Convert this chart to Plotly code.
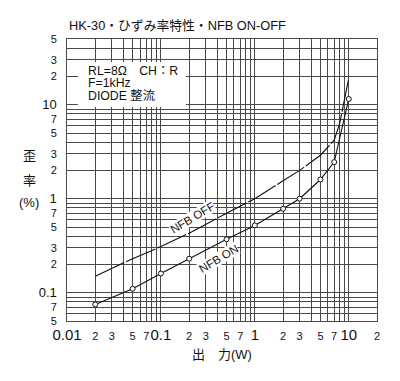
import plotly.graph_objects as go
import numpy as np

# Data
power_on = [0.02, 0.05, 0.1, 0.2, 0.5, 1, 2, 3, 5, 7, 10]
dist_on = [0.075, 0.11, 0.16, 0.23, 0.37, 0.52, 0.78, 1.0, 1.6, 2.45, 11.5]

power_off = [0.02, 0.05, 0.1, 0.2, 0.5, 1, 2, 3, 5, 7, 8, 10]
dist_off = [0.15, 0.23, 0.31, 0.43, 0.7, 1.0, 1.55, 2.0, 2.9, 4.2, 6.3, 19]

# Grid / tick positions and labels
x_tickvals = [m * 10.0 ** e for e in (-2, -1, 0) for m in range(1, 10)] + [10, 20]
x_labels = ["0.01", "2", "3", "", "5", "", "7", "", "",
            "0.1", "2", "3", "", "5", "", "7", "", "",
            "1", "2", "3", "", "5", "", "7", "", "",
            "10", "2"]
y_tickvals = [m * 10.0 ** e for e in (-2, -1, 0, 1) for m in range(1, 10)]
y_tickvals = [v for v in y_tickvals if 0.049 < v < 51] + [50]
y_labels_map = {0.05: "5", 0.07: "7", 0.1: "0.1", 0.2: "2", 0.3: "3", 0.5: "5", 0.7: "7",
                1: "1", 2: "2", 3: "3", 5: "5", 7: "7", 10: "10", 20: "2", 30: "3", 50: "5"}

BIG = {"0.01", "0.1", "1", "10"}


def fmt(lbl, big, small):
    if lbl == "":
        return ""
    size = big if lbl in BIG else small
    return f'<span style="font-size:{size}px">{lbl}</span>'


x_ticktext = [fmt(l, 15, 11) for l in x_labels]
y_ticktext = []
for v in y_tickvals:
    lbl = ""
    for k, t in y_labels_map.items():
        if abs(k - v) < 1e-6:
            lbl = t
    y_ticktext.append(fmt(lbl, 13, 11))

FONT = "Liberation Sans, Arial, Noto Sans CJK JP, sans-serif"
GRID = "#4a4a4a"
INK = "#111111"

fig = go.Figure()
fig.add_trace(go.Scatter(
    x=power_off, y=dist_off, mode="lines",
    line=dict(color=INK, width=1.1, dash="32px,2px"),
    showlegend=False,
))
fig.add_trace(go.Scatter(
    x=power_on, y=dist_on, mode="lines+markers",
    line=dict(color=INK, width=1.1),
    marker=dict(symbol="circle", size=5, color="white", line=dict(color=INK, width=1)),
    showlegend=False,
))

# plot area in page pixels: x 67..377, y 39..321
def px(x):
    return (x - 67) / 310.0


def py(y):
    return (321 - y) / 282.0


shapes = [dict(type="rect", xref="paper", yref="paper",
               x0=px(78), x1=px(186), y0=py(107), y1=py(62),
               fillcolor="white", line=dict(width=0), layer="above")]


def ann(text, x, y, size, xanchor="center", **kw):
    return dict(text=text, xref="paper", yref="paper", x=px(x), y=py(y),
                xanchor=xanchor, yanchor="middle", showarrow=False,
                font=dict(size=size, color=INK, family=FONT), **kw)


annotations = [
    ann("HK-30・ひずみ率特性・NFB ON-OFF", 67, 25, 12.8, xanchor="left"),
    ann("RL=8Ω　CH：R", 86, 71, 12.3, xanchor="left"),
    ann("F=1kHz", 86, 83, 12.3, xanchor="left"),
    ann("DIODE 整流", 86, 95.5, 12.3, xanchor="left"),
    ann("NFB OFF", 192, 218, 11.5, textangle=-31, bgcolor="white", borderpad=0),
    ann("NFB ON", 218, 259, 11.5, textangle=-31, bgcolor="white", borderpad=0),
    ann("歪", 29, 155, 13),
    ann("率", 29, 180, 13),
    ann("(%)", 29, 202, 13),
    ann("出　力(W)", 222, 354, 13),
]

# the page body has an 8px default margin, so the figure is sized to fit the window
fig.update_layout(
    width=392, height=373,
    margin=dict(l=59, r=23, t=31, b=60),
    paper_bgcolor="white", plot_bgcolor="white",
    font=dict(family=FONT, color=INK, size=11),
    shapes=shapes, annotations=annotations,
    xaxis=dict(type="log", range=[-2, np.log10(20)], tickmode="array",
               tickvals=x_tickvals, ticktext=x_ticktext, tickangle=0, showgrid=True,
               gridcolor=GRID, gridwidth=1, showline=True, linecolor=GRID,
               mirror=True, ticks="", ticklabelstandoff=5, zeroline=False),
    yaxis=dict(type="log", range=[np.log10(0.05), np.log10(50)], tickmode="array",
               tickvals=y_tickvals, ticktext=y_ticktext, showgrid=True,
               gridcolor=GRID, gridwidth=1, showline=True, linecolor=GRID,
               mirror=True, ticks="", ticklabelstandoff=7, zeroline=False),
)

fig.write_html("out.html")
